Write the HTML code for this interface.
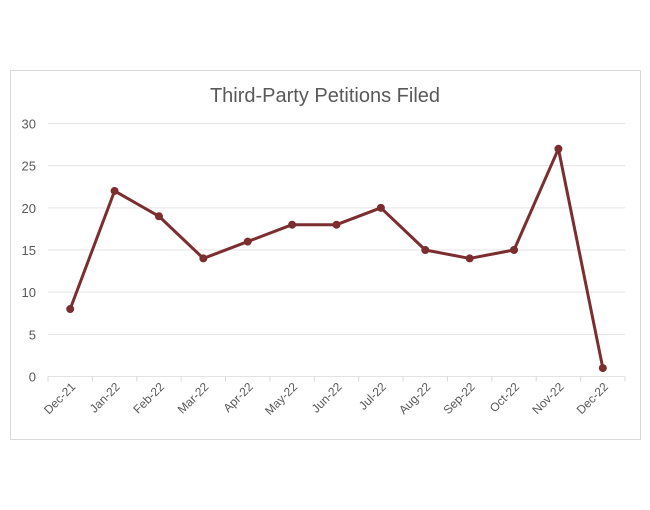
<!DOCTYPE html>
<html><head><meta charset="utf-8"><style>
body{margin:0;background:#fff;}
svg{display:block;font-family:"Liberation Sans",sans-serif;}
</style></head><body>
<svg id="c" width="650" height="510">
<rect x="10.5" y="70.5" width="630" height="369" fill="#fff" stroke="#d9d9d9"/>
<text x="325" y="102" text-anchor="middle" font-size="20" fill="#595959">Third-Party Petitions Filed</text>
<g id="grid"></g><g id="yl"></g><g id="xl"></g><g id="ser"></g>
</svg>
<script>
const categories=["Dec-21","Jan-22","Feb-22","Mar-22","Apr-22","May-22","Jun-22","Jul-22","Aug-22","Sep-22","Oct-22","Nov-22","Dec-22"];
const petitions=[8,22,19,14,16,18,18,20,15,14,15,27,1];
const yTicks=[0,5,10,15,20,25,30];
const NS="http://www.w3.org/2000/svg";
const L=48,R=625,T=123.5,B=376.5;
const cw=(R-L)/categories.length;
const x=i=>L+cw*(i+0.5);
const y=v=>B-(v/30)*(B-T);
function mk(t,a,p){const e=document.createElementNS(NS,t);for(const k in a)e.setAttribute(k,a[k]);p.appendChild(e);return e;}
const grid=document.getElementById('grid'),yl=document.getElementById('yl'),xl=document.getElementById('xl'),ser=document.getElementById('ser');
yTicks.forEach(v=>{
 const g=mk('line',{x1:L,x2:R,y1:y(v),y2:y(v),stroke:'#e3e3e3','stroke-width':1},grid);
 
 
 const t=mk('text',{x:36,y:y(v)+5,'text-anchor':'end','font-size':13,fill:'#595959'},yl);
 t.textContent=v;
 
 
});
for(let i=0;i<=categories.length;i++){
 const tk=mk('line',{x1:L+cw*i,x2:L+cw*i,y1:B,y2:B+5,stroke:'#d9d9d9'},grid);
 
 
}
categories.forEach((c,i)=>{
 const px=x(i)+6,py=B+11;
 const t=mk('text',{x:px,y:py,'text-anchor':'end','font-size':12,fill:'#595959',transform:`rotate(-45 ${px} ${py})`},xl);
 t.textContent=c;
 
 
});
const pl=mk('polyline',{points:petitions.map((v,i)=>x(i)+','+y(v)).join(' '),fill:'none',stroke:'#7b2d30','stroke-width':3,'stroke-linejoin':'round'},ser);


petitions.forEach((v,i)=>{
 const c=mk('circle',{cx:x(i),cy:y(v),r:4,fill:'#7b2d30'},ser);
 
 
});
</script>
</body></html>
